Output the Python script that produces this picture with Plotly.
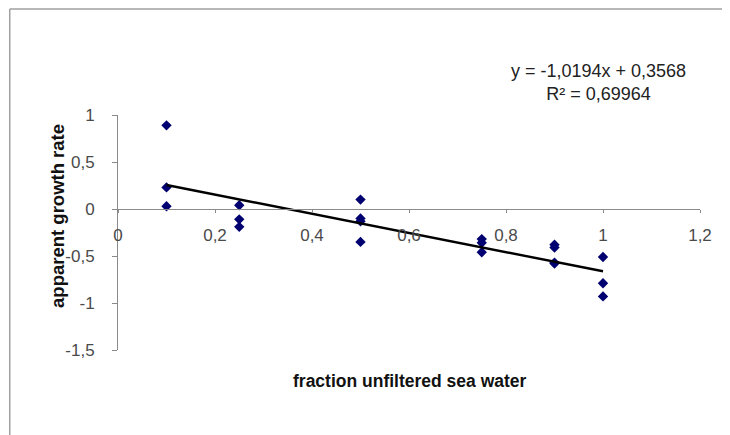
import plotly.graph_objects as go

# data
frac = [0.1, 0.1, 0.1, 0.25, 0.25, 0.25, 0.5, 0.5, 0.5, 0.5,
        0.75, 0.75, 0.75, 0.9, 0.9, 0.9, 0.9, 1.0, 1.0, 1.0]
growth = [0.89, 0.23, 0.03, 0.04, -0.11, -0.19, 0.10, -0.10, -0.13, -0.35,
          -0.32, -0.36, -0.46, -0.38, -0.41, -0.57, -0.58, -0.51, -0.79, -0.93]

slope = -1.0194
intercept = 0.3568
r2_text = "0,69964"
trend_x = [0.1, 1.0]

y_tickvals = [1, 0.5, 0, -0.5, -1, -1.5]
y_ticktext = ["1", "0,5", "0", "-0,5", "-1", "-1,5"]
x_tickvals = [0, 0.2, 0.4, 0.6, 0.8, 1.0, 1.2]
x_ticktext = ["0", "0,2", "0,4", "0,6", "0,8", "1", "1,2"]

FONT = "Liberation Sans, Arial, sans-serif"
AXC = "#8a8a8a"

fig = go.Figure()
fig.add_trace(go.Scatter(
    x=frac, y=growth, mode="markers",
    marker=dict(symbol="diamond", size=8, color="#000070"),
    showlegend=False))
fig.add_trace(go.Scatter(
    x=trend_x, y=[slope * v + intercept for v in trend_x], mode="lines",
    line=dict(color="#000000", width=2.4), showlegend=False))

fig.update_layout(
    width=730, height=435,
    margin=dict(l=110, r=38, t=107, b=93),
    paper_bgcolor="white", plot_bgcolor="white",
    font=dict(family=FONT, size=13, color="#3a3a3a"),
    separators=", ",
    xaxis=dict(range=[0, 1.2], tickvals=x_tickvals, ticktext=x_ticktext,
               showgrid=False, zeroline=False, showline=True, linecolor=AXC,
               linewidth=1, ticks="outside", ticklen=3, tickcolor=AXC,
               anchor="free", position=0.6, ticklabelstandoff=8,
               tickfont=dict(size=17, color="#4a4a4a")),
    yaxis=dict(range=[-1.5, 1], tickvals=y_tickvals, ticktext=y_ticktext,
               showgrid=False, zeroline=False, showline=True, linecolor=AXC,
               linewidth=1, ticks="outside", ticklen=5, tickcolor=AXC,
               ticklabelstandoff=14,
               tickfont=dict(size=17, color="#4a4a4a")),
)

# outer chart border (left and top visible)
fig.add_shape(type="line", xref="paper", yref="paper",
              x0=-0.186, x1=-0.186, y0=-0.5, y1=1.451,
              line=dict(color="#a0a0a0", width=1.5))
fig.add_shape(type="line", xref="paper", yref="paper",
              x0=-0.186, x1=1.1, y0=1.451, y1=1.451,
              line=dict(color="#a0a0a0", width=1.5))

fig.add_annotation(text="<b>apparent growth rate</b>", textangle=-90,
                   xref="paper", yref="paper", x=-0.105, y=0.57,
                   xanchor="center", yanchor="middle",
                   showarrow=False, font=dict(size=18.5, color="#111111"))
fig.add_annotation(text="<b>fraction unfiltered sea water</b>",
                   xref="paper", yref="paper", x=0.502, y=-0.132,
                   xanchor="center", yanchor="middle",
                   showarrow=False, font=dict(size=17.5, color="#111111"))
fig.add_annotation(
    text=f"y = {slope:.4f}x + {intercept:.4f}".replace(".", ",") + f"<br>R² = {r2_text}",
    xref="paper", yref="paper", x=0.825, y=1.14,
    xanchor="center", yanchor="middle", showarrow=False,
    font=dict(size=18, color="#222222"))

fig.write_html("out.html")
